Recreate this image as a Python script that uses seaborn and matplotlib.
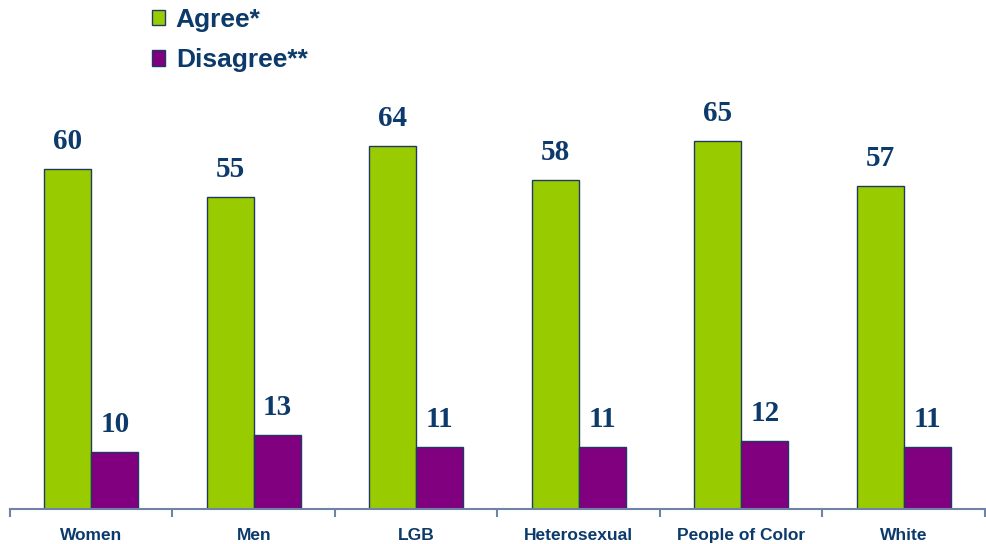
import matplotlib
matplotlib.use("Agg")
import matplotlib.pyplot as plt
from matplotlib.patches import Patch
import seaborn as sns
import pandas as pd

groups = ["Women", "Men", "LGB", "Heterosexual", "People of Color", "White"]
agree = [60, 55, 64, 58, 65, 57]
disagree = [10, 13, 11, 11, 12, 11]
series_names = ["Agree*", "Disagree**"]
colors = ["#99CC00", "#800080"]

navy = "#0B3A6B"
edge = "#1F3864"
axis_color = "#6F83A6"

df = pd.DataFrame({
    "group": groups * 2,
    "series": [series_names[0]] * len(groups) + [series_names[1]] * len(groups),
    "value": agree + disagree,
})

sns.set_style("white")
fig = plt.figure(figsize=(9.87, 5.44), dpi=100)
ax = fig.add_axes([10 / 987, 35 / 544, 975 / 987, 429 / 544])

sns.barplot(data=df, x="group", y="value", hue="series", order=groups,
            hue_order=series_names, palette=colors, width=0.58,
            edgecolor=edge, linewidth=1.0, saturation=1, ax=ax, legend=False)

ax.set_ylim(0, 429 / (340 / 60))
ax.set_xlim(-0.5, len(groups) - 0.5)

for container in ax.containers:
    ax.bar_label(container, fmt="%d", padding=10, color=navy,
                 fontsize=21, fontweight="bold", family="Liberation Serif")

for s in ["top", "right", "left"]:
    ax.spines[s].set_visible(False)
ax.spines["bottom"].set_color(axis_color)
ax.spines["bottom"].set_linewidth(1.5)

ax.set_yticks([])
ax.set_xlabel("")
ax.set_ylabel("")
ax.set_xticks(range(len(groups)))
ax.set_xticklabels(groups, fontsize=12.5, fontweight="bold", color=navy,
                   family="Liberation Sans")
ax.tick_params(axis="x", which="major", bottom=False, length=0, pad=14)
ax.set_xticks([i - 0.5 for i in range(len(groups) + 1)], minor=True)
ax.tick_params(axis="x", which="minor", bottom=True, length=6, width=1.5,
               color=axis_color, direction="out")

handles = [Patch(facecolor=c, edgecolor=edge, linewidth=1.0) for c in colors]
fig.legend(handles, series_names, loc="upper left",
           bbox_to_anchor=(152 / 987, 1 - 8 / 544), frameon=False,
           borderpad=0, borderaxespad=0,
           handlelength=0.5, handleheight=0.5, handletextpad=0.4,
           labelspacing=0.62,
           prop={"family": "Liberation Sans", "weight": "bold", "size": 19},
           labelcolor=navy)

fig.savefig("out.png", dpi=100)
